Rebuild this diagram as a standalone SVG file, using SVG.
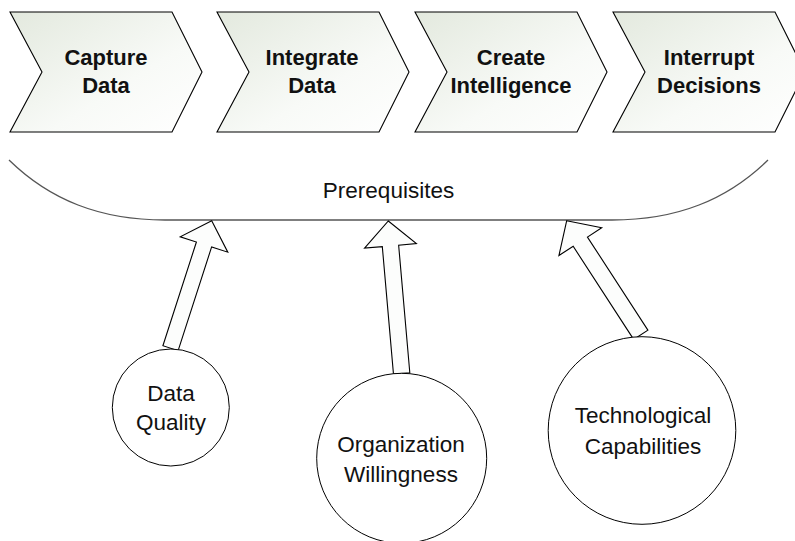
<svg xmlns="http://www.w3.org/2000/svg" width="795" height="541" viewBox="0 0 795 541">
  <defs>
    <linearGradient id="chevronFill" x1="0" y1="0" x2="1" y2="1">
      <stop offset="0" stop-color="#e3e9de"/>
      <stop offset="0.6" stop-color="#f8faf7"/>
      <stop offset="1" stop-color="#ffffff"/>
    </linearGradient>
    <!-- chevron outline, origin at its top-left corner -->
    <path id="chevron" d="M0,0 L162,0 L192,60 L162,120 L0,120 L32,60 Z"/>
  </defs>
  <style>
    .chev { fill: url(#chevronFill); stroke: #000; stroke-width: 1.1; }
    .step { font-family: "Liberation Sans", Arial, sans-serif; font-weight: bold; font-size: 22px; fill: #111; text-anchor: middle; }
    .label { font-family: "Liberation Sans", Arial, sans-serif; font-size: 22.5px; fill: #111; text-anchor: middle; }
    .brace { fill: none; stroke: #555; stroke-width: 1.3; }
    .arrow { fill: #fcfdfc; stroke: #000; stroke-width: 1.1; stroke-linejoin: miter; }
    .circle { fill: #ffffff; stroke: #000; stroke-width: 1; }
  </style>

  <!-- process steps -->
  <g id="step-capture">
    <use href="#chevron" class="chev" transform="translate(10,12)"/>
    <text class="step" x="106" y="65">Capture</text>
    <text class="step" x="106" y="93">Data</text>
  </g>
  <g id="step-integrate">
    <use href="#chevron" class="chev" transform="translate(217,12)"/>
    <text class="step" x="312" y="65">Integrate</text>
    <text class="step" x="312" y="93">Data</text>
  </g>
  <g id="step-create">
    <use href="#chevron" class="chev" transform="translate(415,12)"/>
    <text class="step" x="511" y="65">Create</text>
    <text class="step" x="511" y="93">Intelligence</text>
  </g>
  <g id="step-interrupt">
    <use href="#chevron" class="chev" transform="translate(613,12)"/>
    <text class="step" x="709" y="65">Interrupt</text>
    <text class="step" x="709" y="93">Decisions</text>
  </g>

  <!-- prerequisites bracket -->
  <g id="prerequisites">
    <path class="brace" d="M9,160 C50,200 100,220 165,220 L612,220 C677,220 727,200 768,160"/>
    <text class="label" x="388.5" y="198">Prerequisites</text>
  </g>

  <!-- connectors: block arrows drawn pointing up from the tip, then rotated -->
  <g id="connectors">
    <path class="arrow" transform="translate(211.7,220.7) rotate(17.9)" d="M0,0 L25,25 L8,25 L8,134 L-8,134 L-8,25 L-25,25 Z"/>
    <path class="arrow" transform="translate(388.3,221) rotate(-5)" d="M0,0 L26,25 L8.2,25 L8.2,153 L-8.2,153 L-8.2,25 L-26,25 Z"/>
    <path class="arrow" transform="translate(566.7,220.7) rotate(-33)" d="M0,0 L25.5,25 L8.5,25 L8.5,136 L-8.5,136 L-8.5,25 L-25.5,25 Z"/>
  </g>

  <!-- contributing factors -->
  <g id="data-quality">
    <circle class="circle" cx="170.8" cy="407.5" r="58.5"/>
    <text class="label" x="171" y="401">Data</text>
    <text class="label" x="171" y="430">Quality</text>
  </g>
  <g id="organization-willingness">
    <circle class="circle" cx="401.7" cy="458.3" r="85"/>
    <text class="label" x="401" y="451.7">Organization</text>
    <text class="label" x="401" y="481.7">Willingness</text>
  </g>
  <g id="technological-capabilities">
    <circle class="circle" cx="642" cy="430.5" r="93.8"/>
    <text class="label" x="643" y="423.3">Technological</text>
    <text class="label" x="643" y="454">Capabilities</text>
  </g>
</svg>
